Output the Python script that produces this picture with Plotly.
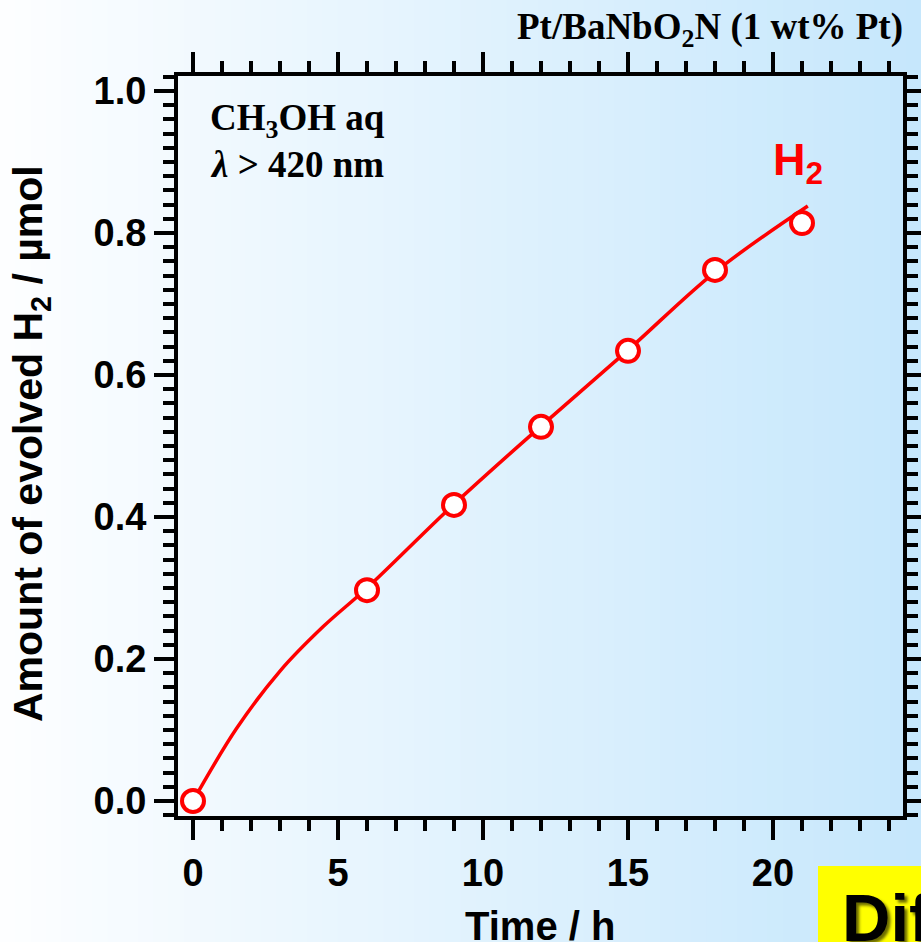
import plotly.graph_objects as go

# ---- data ----
time_h = [0, 6, 9, 12, 15, 18, 21]
h2_umol = [0.0, 0.297, 0.417, 0.527, 0.634, 0.748, 0.814]
fit_time = [0, 1.5, 3, 4.5, 6, 9, 12, 15, 18, 21.2]
fit_h2 = [0, 0.102, 0.183, 0.246, 0.300, 0.418, 0.528, 0.635, 0.745, 0.838]
x_ticks = [0, 5, 10, 15, 20]
y_ticks = [0.0, 0.2, 0.4, 0.6, 0.8, 1.0]
y_ticklabels = ["0.0", "0.2", "0.4", "0.6", "0.8", "1.0"]

W, H = 921, 942
L, R, T, B = 178, 903, 76, 816


def px(p):
    return (p - L) / (R - L)


def py(p):
    return (B - p) / (B - T)


fig = go.Figure()

fig.add_trace(go.Scatter(
    x=fit_time, y=fit_h2, mode="lines", line=dict(color="#ff0000", width=3.5, shape="spline"),
    hoverinfo="skip", showlegend=False))
fig.add_trace(go.Scatter(
    x=time_h, y=h2_umol, mode="markers",
    marker=dict(symbol="circle", size=22, color="white", line=dict(color="#ff0000", width=4)),
    showlegend=False))

# background gradient (white -> light blue, left to right)
shapes = []
N = 60
c0 = (253, 254, 255)
c1 = (198, 231, 252)
for i in range(N):
    t = i / (N - 1)
    col = tuple(round(c0[k] + (c1[k] - c0[k]) * t) for k in range(3))
    x0 = i * W / N
    x1 = (i + 1) * W / N + 1
    shapes.append(dict(type="rect", xref="paper", yref="paper", layer="below",
                       x0=px(x0), x1=px(x1), y0=py(H + 5), y1=py(-5),
                       line=dict(width=0), fillcolor="rgb(%d,%d,%d)" % col))
# yellow box bottom right
shapes.append(dict(type="rect", xref="paper", yref="paper", layer="above",
                   x0=px(818), x1=px(930), y0=py(950), y1=py(866),
                   line=dict(width=0), fillcolor="#ffff00"))

axis_common = dict(
    showline=True, linecolor="black", linewidth=4, mirror="allticks",
    ticks="outside", ticklen=20, tickwidth=3.5, tickcolor="black",
    showgrid=False, zeroline=False, automargin=False,
    tickfont=dict(family="Liberation Sans, Arial", size=38, color="black", weight="bold"),
)

fig.update_xaxes(
    range=[(L - 193) / 29.0, (R - 193) / 29.0],
    tickvals=x_ticks,
    minor=dict(dtick=1, tick0=0, ticks="outside", ticklen=11, tickwidth=3.5, tickcolor="black"),
    **axis_common)
fig.update_yaxes(
    range=[(801 - B) / 710.0, (801 - T) / 710.0],
    tickvals=y_ticks, ticktext=y_ticklabels,
    minor=dict(dtick=0.02, tick0=0, ticks="outside", ticklen=11, tickwidth=3.5, tickcolor="black"),
    **axis_common)

serif = "Liberation Serif, Times New Roman"
sans = "Liberation Sans, Arial"
annotations = [
    dict(text="Time / h", xref="paper", yref="paper",
         x=px(540), y=py(926), xanchor="center", yanchor="middle", showarrow=False,
         font=dict(family=sans, size=40, color="black", weight="bold")),
    dict(text="Amount of evolved H<sub>2</sub> / µmol", xref="paper", yref="paper", textangle=-90,
         x=px(31), y=py(444), xanchor="center", yanchor="middle", showarrow=False,
         font=dict(family=sans, size=41, color="black", weight="bold")),
    dict(text="Pt/BaNbO<sub>2</sub>N (1 wt% Pt)", xref="paper", yref="paper",
         x=px(905), y=py(4), xanchor="right", yanchor="top", showarrow=False,
         font=dict(family=serif, size=37, color="black", weight="bold")),
    dict(text="CH<sub>3</sub>OH aq", xref="paper", yref="paper",
         x=px(208), y=py(95), xanchor="left", yanchor="top", showarrow=False,
         font=dict(family=serif, size=37, color="black", weight="bold")),
    dict(text="<i>λ</i> > 420 nm", xref="paper", yref="paper",
         x=px(208), y=py(142), xanchor="left", yanchor="top", showarrow=False,
         font=dict(family=serif, size=37, color="black", weight="bold")),
    dict(text="H<sub>2</sub>", xref="paper", yref="paper",
         x=px(771), y=py(132), xanchor="left", yanchor="top", showarrow=False,
         font=dict(family=sans, size=45, color="#ff0000", weight="bold")),
    dict(text="Different", xref="paper", yref="paper",
         x=px(840), y=py(878), xanchor="left", yanchor="top", showarrow=False,
         font=dict(family=sans, size=67, color="black", weight="bold",
                   shadow="3px 3px 3px #6b6b00")),
]

fig.update_layout(
    width=W, height=H, autosize=False,
    margin=dict(l=L, r=W - R, t=T, b=H - B, pad=0),
    paper_bgcolor="white", plot_bgcolor="rgba(0,0,0,0)",
    shapes=shapes, annotations=annotations, showlegend=False,
)

fig.write_html("out.html")
